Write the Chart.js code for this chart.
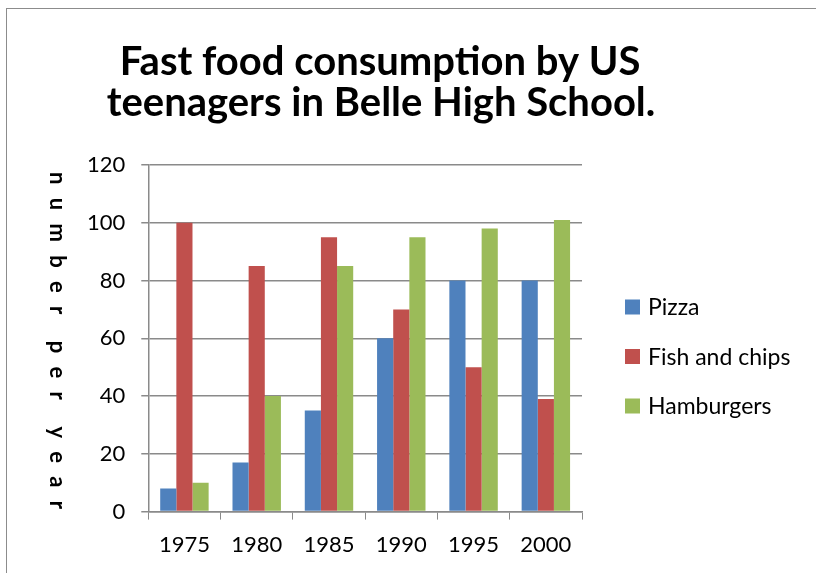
<!DOCTYPE html>
<html>
<head>
<meta charset="utf-8">
<script src="https://cdn.jsdelivr.net/npm/chart.js@4/dist/chart.umd.min.js"></script>
<style>
  html, body { margin: 0; padding: 0; background: #fff; }
  #wrap { position: relative; width: 816px; height: 573px; overflow: hidden; }
  #frame { position: absolute; left: 6px; top: 8px; width: 900px; height: 700px;
           border-left: 1px solid #8c8c8c; border-top: 1px solid #8c8c8c; }
  canvas { position: absolute; left: 0; top: 0; }
</style>
</head>
<body>
<div id="wrap">
  <div id="frame"></div>
  <canvas id="chart" width="816" height="573"></canvas>
</div>
<script>
// chart data
const years      = ['1975', '1980', '1985', '1990', '1995', '2000'];
const pizza      = [8, 17, 35, 60, 80, 80];
const fishChips  = [100, 85, 95, 70, 50, 39];
const hamburgers = [10, 40, 85, 95, 98, 101];

const titleLines = ['Fast food consumption by US', 'teenagers in Belle High School.'];
const yLabel     = 'number per year';

const FONT = 'Lato, "Open Sans", sans-serif';
const GRID = '#8a8a8a';

// title, spaced out vertical axis label and the legend, drawn by hand
const decorations = {
  id: 'decorations',
  afterDraw(chart) {
    const ctx = chart.ctx;
    ctx.save();
    ctx.fillStyle = '#000';
    ctx.textAlign = 'center';
    ctx.textBaseline = 'middle';
    ctx.font = 'bold 40px ' + FONT;
    ctx.fillText(titleLines[0], 380, 62);
    ctx.fillText(titleLines[1], 381, 103);

    // legend on the right
    ctx.font = '23px ' + FONT;
    ctx.textAlign = 'left';
    chart.data.datasets.forEach((ds, i) => {
      const cy = 307 + i * 49.5;
      ctx.fillStyle = ds.backgroundColor;
      ctx.fillRect(625, cy - 7.5, 15, 15);
      ctx.fillStyle = '#000';
      ctx.fillText(ds.label, 648, cy + 1);
    });

    // y label: rotated clockwise, letters spread out
    ctx.font = 'bold 22px ' + FONT;
    const chars = yLabel.split('');
    const top = 172, bottom = 509;
    const widths = chars.map(c => c === ' ' ? 0 : ctx.measureText(c).width);
    const gap = (bottom - top - widths.reduce((a, b) => a + b, 0)) / (chars.length - 1);
    ctx.translate(57, top);
    ctx.rotate(Math.PI / 2);
    let pos = 0;
    chars.forEach((c, i) => {
      if (c !== ' ') ctx.fillText(c, pos, 0);
      pos += widths[i] + gap;
    });
    ctx.restore();
  }
};

new Chart(document.getElementById('chart'), {
  type: 'bar',
  data: {
    labels: years,
    datasets: [
      { label: 'Pizza',          data: pizza,      backgroundColor: '#4F81BD' },
      { label: 'Fish and chips', data: fishChips,  backgroundColor: '#C0504D' },
      { label: 'Hamburgers',     data: hamburgers, backgroundColor: '#9BBB59' }
    ]
  },
  options: {
    responsive: false,
    animation: false,
    layout: { padding: { top: 165, left: 71, right: 234, bottom: 3 } },
    datasets: { bar: { categoryPercentage: 0.67, barPercentage: 1.0 } },
    plugins: {
      title: { display: false },
      tooltip: { enabled: false },
      legend: { display: false }
    },
    scales: {
      x: {
        grid: { display: true, drawOnChartArea: false, drawTicks: true, tickLength: 8, color: GRID, offset: true },
        border: { display: true, color: GRID, width: 1.5 },
        ticks: { color: '#000', font: { family: FONT, size: 22 }, padding: 12 }
      },
      y: {
        min: 0, max: 120,
        ticks: { stepSize: 20, color: '#000', font: { family: FONT, size: 22 }, padding: 16 },
        grid: { color: GRID, lineWidth: 1.5, tickLength: 7 },
        border: { display: true, color: GRID, width: 1.5 }
      }
    }
  },
  plugins: [decorations]
});
</script>
</body>
</html>
